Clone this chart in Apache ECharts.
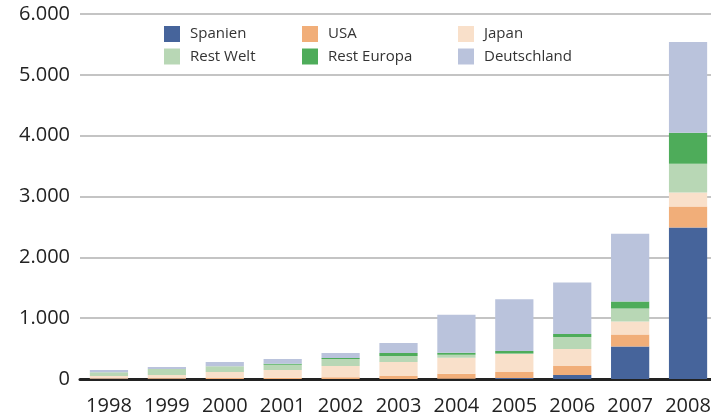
<!DOCTYPE html>
<html><head><meta charset="utf-8">
<script src="https://cdn.jsdelivr.net/npm/echarts@6/dist/echarts.min.js"></script>
<style>html,body{margin:0;padding:0;background:#fff}#c{width:711px;height:418px}</style>
</head><body><div id="c"></div>
<script>
const years = ['1998','1999','2000','2001','2002','2003','2004','2005','2006','2007','2008'];
const spanien     = [0, 0, 0, 0, 0, 0, 6, 15, 66, 536, 2490];
const usa         = [10, 12, 15, 20, 30, 49, 80, 100, 147, 197, 345];
const japan       = [39, 54, 100, 128, 183, 230, 264, 298, 279, 213, 230];
const restWelt    = [61, 98, 93, 87, 115, 98, 49, 8, 197, 213, 475];
const restEuropa  = [0, 0, 0, 16, 16, 49, 33, 38, 49, 115, 510];
const deutschland = [38, 33, 71, 77, 82, 164, 623, 852, 847, 1114, 1490];
const yTicks = [0, 1000, 2000, 3000, 4000, 5000, 6000];

const seriesDefs = [
  ['Spanien', spanien, '#46649b'],
  ['USA', usa, '#f1ae79'],
  ['Japan', japan, '#f9e0ca'],
  ['Rest Welt', restWelt, '#b8d7b5'],
  ['Rest Europa', restEuropa, '#4eac5a'],
  ['Deutschland', deutschland, '#bac3dc']
];
const font = '"Open Sans", "DejaVu Sans", sans-serif';
const legendBase = {
  orient: 'vertical', top: 26, padding: 0, itemWidth: 16, itemHeight: 16, itemGap: 6.5,
  icon: 'rect', selectedMode: false,
  textStyle: { fontFamily: font, fontSize: 15, color: '#333', padding: [0, 0, 0, 5] }
};
const chart = echarts.init(document.getElementById('c'), null, { renderer: 'canvas' });
chart.setOption({
  animation: false,
  backgroundColor: '#fff',
  legend: [
    Object.assign({}, legendBase, { left: 164, data: ['Spanien', 'Rest Welt'] }),
    Object.assign({}, legendBase, { left: 302, data: ['USA', 'Rest Europa'] }),
    Object.assign({}, legendBase, { left: 458, data: ['Japan', 'Deutschland'] })
  ],
  grid: { left: 80, width: 637, top: 14, height: 365, containLabel: false, outerBoundsMode: 'none' },
  xAxis: {
    type: 'category', data: years,
    axisLine: { show: true, lineStyle: { color: '#222', width: 3 } },
    axisTick: { show: false },
    axisLabel: { interval: 0, fontFamily: font, fontSize: 20, color: '#222', margin: 17 },
    splitLine: { show: false }
  },
  yAxis: {
    type: 'value', min: yTicks[0], max: yTicks[yTicks.length - 1], interval: 1000,
    axisLine: { show: false }, axisTick: { show: false },
    axisLabel: {
      fontFamily: font, fontSize: 20, color: '#222', margin: 10,
      formatter: v => v === 0 ? '0' : String(v).replace(/\B(?=(\d{3})+(?!\d))/g, '.')
    },
    splitLine: { show: true, lineStyle: { color: '#c4c4c4', width: 2 } }
  },
  series: seriesDefs.map(([name, data, color]) => ({
    name, type: 'bar', stack: 'total', data, barCategoryGap: '34%',
    itemStyle: { color }
  }))
});
</script></body></html>
